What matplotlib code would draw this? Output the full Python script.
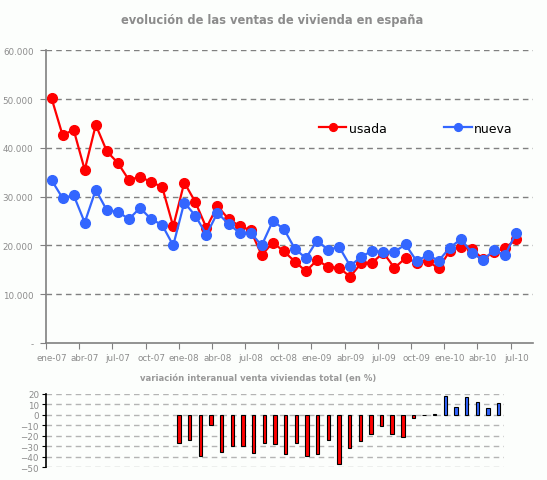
import matplotlib
matplotlib.use('Agg')
import matplotlib.pyplot as plt
import numpy as np

# meses ene-07 .. jul-10 (43) + un hueco vacio al final
meses = ['ene', 'feb', 'mar', 'abr', 'may', 'jun', 'jul', 'ago', 'sep', 'oct', 'nov', 'dic']
etiquetas = [m + '-' + a for a in ['07', '08', '09', '10'] for m in meses][:43]

# ventas en miles
usada = [50.2, 42.6, 43.7, 35.5, 44.7, 39.3, 36.9, 33.4, 34.1, 33.0, 32.0, 23.9,
         32.9, 28.9, 23.6, 28.1, 25.4, 24.0, 23.1, 18.0, 20.6, 18.8, 16.7, 14.7,
         17.0, 15.6, 15.4, 13.6, 16.4, 16.5, 18.5, 15.4, 17.4, 16.5, 16.8, 15.3,
         18.9, 19.7, 19.3, 17.2, 18.7, 19.4, 21.3]
nueva = [33.4, 29.7, 30.3, 24.7, 31.4, 27.2, 26.9, 25.4, 27.7, 25.4, 24.2, 20.0,
         28.8, 26.1, 22.2, 26.7, 24.4, 22.6, 22.6, 20.0, 25.0, 23.4, 19.3, 17.4,
         21.0, 19.1, 19.7, 15.8, 17.7, 18.9, 18.6, 18.7, 20.2, 16.8, 18.0, 16.9,
         19.5, 21.3, 18.5, 17.0, 19.0, 18.0, 22.6]

# variacion interanual (%) desde ene-08
variacion = [-26.4, -24.2, -38.9, -9.2, -35.0, -29.9, -29.3, -36.0, -26.4, -28.0,
             -36.9, -26.4, -38.9, -36.9, -23.6, -47.1, -31.8, -24.5, -18.5, -10.2,
             -17.8, -21.3, -3.2, 0.0, 1.0, 17.8, 7.6, 16.9, 12.1, 6.4, 11.1]

gris = '#8c8c8c'
fondo = '#fcfefc'
rojo = '#ff0000'
azul = '#3366ff'

fig = plt.figure(figsize=(5.47, 4.81), dpi=100, facecolor=fondo)

# grafico principal
ax = fig.add_axes([0.0841, 0.2848, 0.8898, 0.6085], facecolor=fondo)
x = np.arange(len(usada))
ax.plot(x, np.array(usada) * 1000, color=rojo, lw=1.6, marker='o', ms=7, label='usada')
ax.plot(x, np.array(nueva) * 1000, color=azul, lw=1.6, marker='o', ms=7, label='nueva')
ax.set_xlim(-0.5, 43.5)
ax.set_ylim(0, 60000)
ax.set_yticks(np.arange(0, 60001, 10000))
ax.set_yticklabels(['-'] + ['{:,}'.format(v).replace(',', '.') for v in range(10000, 60001, 10000)])
for v in range(10000, 60001, 10000):
    ax.axhline(v, color='#808080', lw=1, ls=(0, (4, 3)), zorder=0)
ax.set_xticks(np.arange(-0.5, 43.5, 3))
ax.set_xticklabels([])
ax.set_xticks(np.arange(0, 43, 3), minor=True)
ax.set_xticklabels(etiquetas[::3], minor=True)
ax.tick_params(axis='x', which='minor', length=0, pad=7)
ax.tick_params(axis='x', which='major', length=4, color='#808080')
ax.tick_params(axis='y', length=4, color='#808080', pad=5)
ax.tick_params(which='both', labelsize=6.3, labelcolor=gris)
for s in ['top', 'right']:
    ax.spines[s].set_visible(False)
for s in ['left', 'bottom']:
    ax.spines[s].set_color('#808080')
    ax.spines[s].set_linewidth(1.2)
ax.legend(loc='center', bbox_to_anchor=(0.76, 0.734), ncol=2, frameon=False,
          fontsize=9, handlelength=2.2, handletextpad=0.2, columnspacing=4.6,
          markerscale=0.8)

fig.text(0.497, 0.958, 'evolución de las ventas de vivienda en españa', ha='center', va='center',
         fontsize=8.3, fontweight='bold', color=gris)

# grafico de variacion
ax2 = fig.add_axes([0.0841, 0.0264, 0.8373, 0.1524], facecolor=fondo)
xb = np.arange(12, 12 + len(variacion))
colores = [rojo if v < 0 else azul for v in variacion]
ax2.bar(xb, variacion, width=0.32, color=colores, edgecolor='black', lw=0.8, zorder=3)
ax2.set_xlim(-0.5, 42.5)
ax2.set_ylim(-50, 20)
ax2.set_yticks(np.arange(-50, 21, 10))
for v in range(-50, 21, 10):
    ax2.axhline(v, color='#b4b4b4', lw=1, ls=(0, (4, 3)), zorder=0)
ax2.set_xticks([])
ax2.tick_params(axis='y', length=3, color='black', labelsize=6.3, labelcolor=gris, pad=2)
for s in ['top', 'right', 'bottom']:
    ax2.spines[s].set_visible(False)
ax2.spines['left'].set_color('black')
ax2.spines['left'].set_linewidth(1.2)

fig.text(0.4717, 0.214, 'variación interanual venta viviendas total (en %)', ha='center', va='center',
         fontsize=6.1, fontweight='bold', color='#999999')

fig.savefig('out.png', dpi=100, facecolor=fondo)
